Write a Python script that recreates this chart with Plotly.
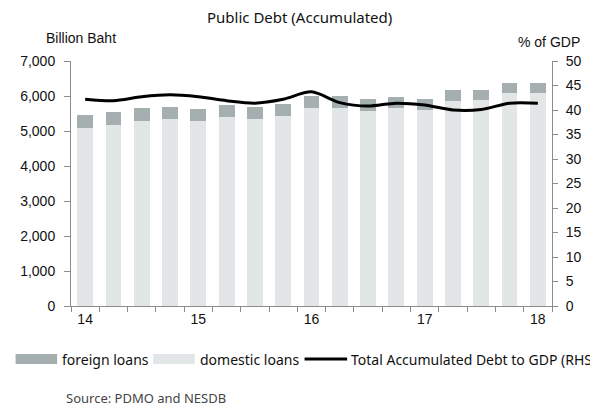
import plotly.graph_objects as go

quarters = ["2014Q1", "2014Q2", "2014Q3", "2014Q4",
            "2015Q1", "2015Q2", "2015Q3", "2015Q4",
            "2016Q1", "2016Q2", "2016Q3", "2016Q4",
            "2017Q1", "2017Q2", "2017Q3", "2017Q4",
            "2018Q1"]
tick_text = ["14", "", "", "", "15", "", "", "", "16", "", "", "",
             "17", "", "", "", "18"]

domestic_loans = [5077, 5163, 5286, 5334, 5286, 5391, 5343, 5437,
                  5657, 5649, 5580, 5649, 5591, 5849, 5886, 6077, 6077]
foreign_loans = [380, 388, 371, 352, 334, 343, 334, 343,
                 352, 360, 334, 331, 323, 314, 294, 294, 294]
debt_to_gdp = [42.2, 41.9, 42.7, 43.1, 42.7, 41.9, 41.4, 42.2,
               43.7, 41.5, 40.8, 41.4, 41.0, 40.0, 40.1, 41.4, 41.4]

FOREIGN_C = "#A6AFAF"
DOMESTIC_C = "#E3E6E6"
AXIS_C = "#8C8C8C"
TH_FONT = "Noto Sans"
AX_FONT = "Liberation Sans"

# page has an 8px body margin; the figure is sized to fill the rest
OFF = 8
W, H = 598 - OFF, 406 - OFF
PL, PR, PT, PB = 66, 552, 61, 306          # plot area in page pixels
L, R, T, B = PL - OFF, W - (PR - OFF), PT - OFF, H - (PB - OFF)
pw, ph = W - L - R, H - T - B


def px(x):
    return (x - OFF - L) / pw


def py(y):
    return (H - B - (y - OFF)) / ph


fig = go.Figure()
fig.add_trace(go.Bar(x=quarters, y=domestic_loans, name="domestic loans",
                     marker=dict(color=DOMESTIC_C, line=dict(width=0)),
                     showlegend=False))
fig.add_trace(go.Bar(x=quarters, y=foreign_loans, name="foreign loans",
                     marker=dict(color=FOREIGN_C, line=dict(width=0)),
                     showlegend=False))
fig.add_trace(go.Scatter(x=quarters, y=debt_to_gdp, yaxis="y2", mode="lines",
                         name="Total Accumulated Debt to GDP (RHS)",
                         line=dict(color="black", width=3, shape="spline", smoothing=0.8),
                         showlegend=False))

shapes = [
    dict(type="rect", xref="paper", yref="paper", x0=px(10), x1=px(52),
         y0=py(364), y1=py(354), fillcolor=FOREIGN_C, line=dict(width=0)),
    dict(type="rect", xref="paper", yref="paper", x0=px(149), x1=px(191),
         y0=py(364), y1=py(354), fillcolor=DOMESTIC_C, line=dict(width=0)),
    dict(type="line", xref="paper", yref="paper", x0=px(302), x1=px(345),
         y0=py(359), y1=py(359), line=dict(color="black", width=3)),
]

annotations = [
    dict(text="Public Debt (Accumulated)", xref="paper", yref="paper",
         x=px(297), y=py(17), showarrow=False, xanchor="center", yanchor="middle",
         font=dict(family=TH_FONT, size=15, color="#111")),
    dict(text="Billion Baht", xref="paper", yref="paper",
         x=px(76), y=py(38), showarrow=False, xanchor="center", yanchor="middle",
         font=dict(family=AX_FONT, size=14, color="#111")),
    dict(text="% of GDP", xref="paper", yref="paper",
         x=px(549), y=py(42), showarrow=False, xanchor="center", yanchor="middle",
         font=dict(family=AX_FONT, size=14, color="#111")),
    dict(text="foreign loans", xref="paper", yref="paper",
         x=px(55), y=py(359), showarrow=False, xanchor="left", yanchor="middle",
         font=dict(family=TH_FONT, size=14, color="#111")),
    dict(text="domestic loans", xref="paper", yref="paper",
         x=px(194), y=py(359), showarrow=False, xanchor="left", yanchor="middle",
         font=dict(family=TH_FONT, size=14, color="#111")),
    dict(text="Total Accumulated Debt to GDP (RHS)", xref="paper", yref="paper",
         x=px(347), y=py(359), showarrow=False, xanchor="left", yanchor="middle",
         font=dict(family=TH_FONT, size=14, color="#111")),
    dict(text="Source: PDMO and NESDB", xref="paper", yref="paper",
         x=px(59), y=py(398), showarrow=False, xanchor="left", yanchor="middle",
         font=dict(family=TH_FONT, size=13, color="#444")),
]

fig.update_layout(
    width=W, height=H,
    margin=dict(l=L, r=R, t=T, b=B, pad=0),
    paper_bgcolor="white", plot_bgcolor="white",
    barmode="stack", bargap=0.44,
    showlegend=False,
    shapes=shapes, annotations=annotations,
    xaxis=dict(type="category", tickmode="array", tickvals=quarters, ticktext=tick_text,
               tickson="boundaries", ticks="outside", ticklen=5, tickcolor=AXIS_C,
               showline=True, linecolor=AXIS_C, linewidth=1, showgrid=False,
               zeroline=False, tickangle=0,
               tickfont=dict(family=AX_FONT, size=14, color="#111")),
    yaxis=dict(range=[0, 7000], dtick=1000, tickformat=",d", ticks="outside",
               ticklen=6, tickcolor=AXIS_C, showline=True, linecolor=AXIS_C,
               linewidth=1, showgrid=False, zeroline=False, ticklabelstandoff=6,
               tickfont=dict(family=AX_FONT, size=14, color="#111")),
    yaxis2=dict(range=[0, 50], dtick=5, overlaying="y", side="right", ticks="outside",
                ticklen=5, tickcolor=AXIS_C, showline=True, linecolor=AXIS_C,
                linewidth=1, showgrid=False, zeroline=False, ticklabelstandoff=5,
                tickfont=dict(family=AX_FONT, size=14, color="#111")),
)

fig.write_html("out.html")
